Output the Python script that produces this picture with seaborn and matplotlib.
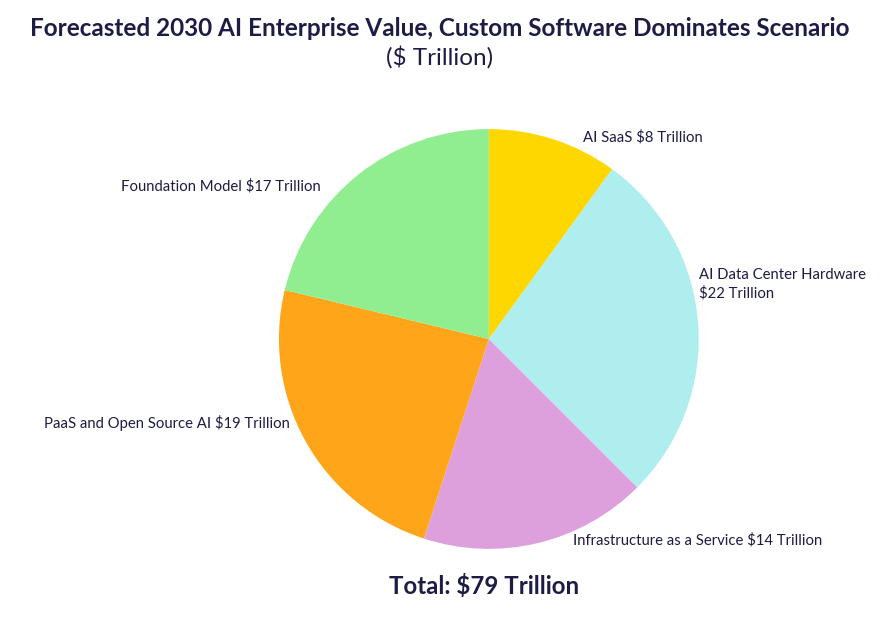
import matplotlib
matplotlib.use("Agg")
import matplotlib.pyplot as plt
import seaborn as sns

# data
segments = ["AI SaaS", "AI Data Center Hardware", "Infrastructure as a Service",
            "PaaS and Open Source AI", "Foundation Model"]
values = [8, 22, 14, 19, 17]
label_texts = ["AI SaaS $8 Trillion", "AI Data Center Hardware\n$22 Trillion",
               "Infrastructure as a Service $14 Trillion",
               "PaaS and Open Source AI $19 Trillion", "Foundation Model $17 Trillion"]
total_text = "Total: $79 Trillion"

colors = ["#FFD700", "#AFEEEE", "#DDA0DD", "#FFA51A", "#90EE90"]
navy = "#1c1c45"

sns.set_theme(style="white")
plt.rcParams["font.family"] = ["Lato", "DejaVu Sans"]

fig = plt.figure(figsize=(8.8, 6.26), dpi=100)
ax = fig.add_axes([0.317, 0.123, 0.477, 0.671])

wedges, texts = ax.pie(values, colors=colors, startangle=90, counterclock=False,
                       labels=label_texts, labeldistance=1.05,
                       wedgeprops=dict(linewidth=0),
                       textprops=dict(color=navy, fontsize=10.7))
ax.set_xlim(-1, 1)
ax.set_ylim(-1, 1)
ax.set_aspect("equal")

# label placement tuned to match the reference layout
label_pos = [(0.45, 0.96, "left"), (1.0, 0.26, "left"), (0.40, -0.96, "left"),
             (-0.95, -0.40, "right"), (-0.80, 0.73, "right")]
for t, (x, y, ha) in zip(texts, label_pos):
    t.set_position((x, y))
    t.set_ha(ha)
    t.set_va("center")
    t.set_linespacing(1.4)

fig.text(0.5, 0.955, "Forecasted 2030 AI Enterprise Value, Custom Software Dominates Scenario",
         ha="center", va="center", fontsize=17.5, fontweight="bold", color=navy)
fig.text(0.5, 0.909, "($ Trillion)", ha="center", va="center", fontsize=17.5, color=navy)
fig.text(0.55, 0.064, total_text, ha="center", va="center", fontsize=17.3,
         fontweight="bold", color=navy)

fig.savefig("out.png", dpi=100)
